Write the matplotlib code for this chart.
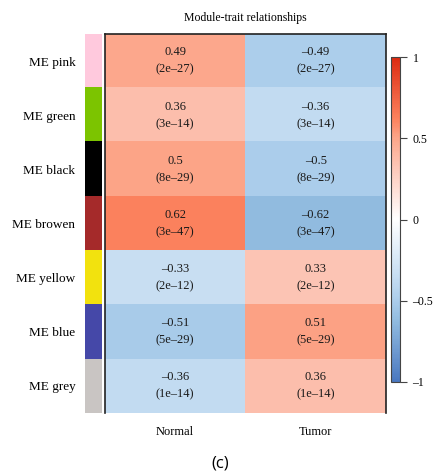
import numpy as np
import matplotlib
matplotlib.use("Agg")
import matplotlib.pyplot as plt
from matplotlib.colors import LinearSegmentedColormap, ListedColormap

modules = ["ME pink", "ME green", "ME black", "ME browen", "ME yellow", "ME blue", "ME grey"]
module_colors = ["#FFC9DD", "#7CC400", "#000000", "#A52A2A", "#F2E20E", "#4548A8", "#C9C5C3"]
traits = ["Normal", "Tumor"]
normal = [0.49, 0.36, 0.5, 0.62, -0.33, -0.51, -0.36]
tumor = [-0.49, -0.36, -0.5, -0.62, 0.33, 0.51, 0.36]
pvals = ["2e\u201327", "3e\u201314", "8e\u201329", "3e\u201347", "2e\u201312", "5e\u201329", "1e\u201314"]

plt.rcParams["font.family"] = ["Liberation Serif", "DejaVu Serif"]

# blue-white-red scale, stops
cmap = LinearSegmentedColormap.from_list(
    "bwr_wgcna",
    [(0.0, "#4A78C0"), (0.19, "#92BCE0"), (0.25, "#ABCDEB"), (0.335, "#C9DFF3"),
     (0.5, "#FFFFFF"), (0.665, "#FDC5B5"), (0.75, "#FCA68A"), (0.81, "#FC825E"),
     (1.0, "#DC2A10")])

vals = np.array([normal, tumor]).T

fig = plt.figure(figsize=(4.41, 4.74), dpi=100)

ax = fig.add_axes([0.238, 0.1287, 0.637, 0.7996])
im = ax.imshow(vals, cmap=cmap, vmin=-1, vmax=1, aspect="auto")
for i in range(len(modules)):
    for j in range(len(traits)):
        v = vals[i, j]
        txt = f"{v:g}".replace("-", "\u2013") + f"\n({pvals[i]})"
        ax.text(j, i, txt, ha="center", va="center", fontsize=9, linespacing=1.6, color="#1a1a1a")
ax.set_xticks([])
ax.set_yticks([])
for s in ["left", "top", "right"]:
    ax.spines[s].set_color("#222222")
    ax.spines[s].set_linewidth(1.2)
ax.spines["bottom"].set_visible(False)
ax.set_title("Module-trait relationships", fontsize=8.5, pad=9)
for j, t in enumerate(traits):
    ax.text(j, len(modules) - 0.5 + 0.35, t, ha="center", va="center", fontsize=9)

# module colour bar
sax = fig.add_axes([0.1927, 0.1287, 0.0385, 0.7996])
sax.imshow(np.arange(len(modules)).reshape(-1, 1), cmap=ListedColormap(module_colors), aspect="auto")
sax.set_xticks([])
sax.set_yticks(range(len(modules)))
sax.set_yticklabels(modules, fontsize=9.5)
sax.tick_params(axis="y", length=0, pad=7)
for s in sax.spines.values():
    s.set_visible(False)

# colour scale
cax = fig.add_axes([0.8866, 0.1941, 0.0204, 0.6856])
cb = fig.colorbar(im, cax=cax, ticks=[-1, -0.5, 0, 0.5, 1])
cb.ax.set_yticklabels(["\u20131", "\u20130.5", "0", "0.5", "1"], fontsize=8.5)
cb.ax.tick_params(length=5, width=0.8, color="#444444", pad=4)
cb.outline.set_edgecolor("#444444")
cb.outline.set_linewidth(0.8)

fig.text(0.499, 0.023, "(c)", ha="center", va="center", fontsize=12, family="Open Sans")

fig.savefig("out.png", dpi=100)
